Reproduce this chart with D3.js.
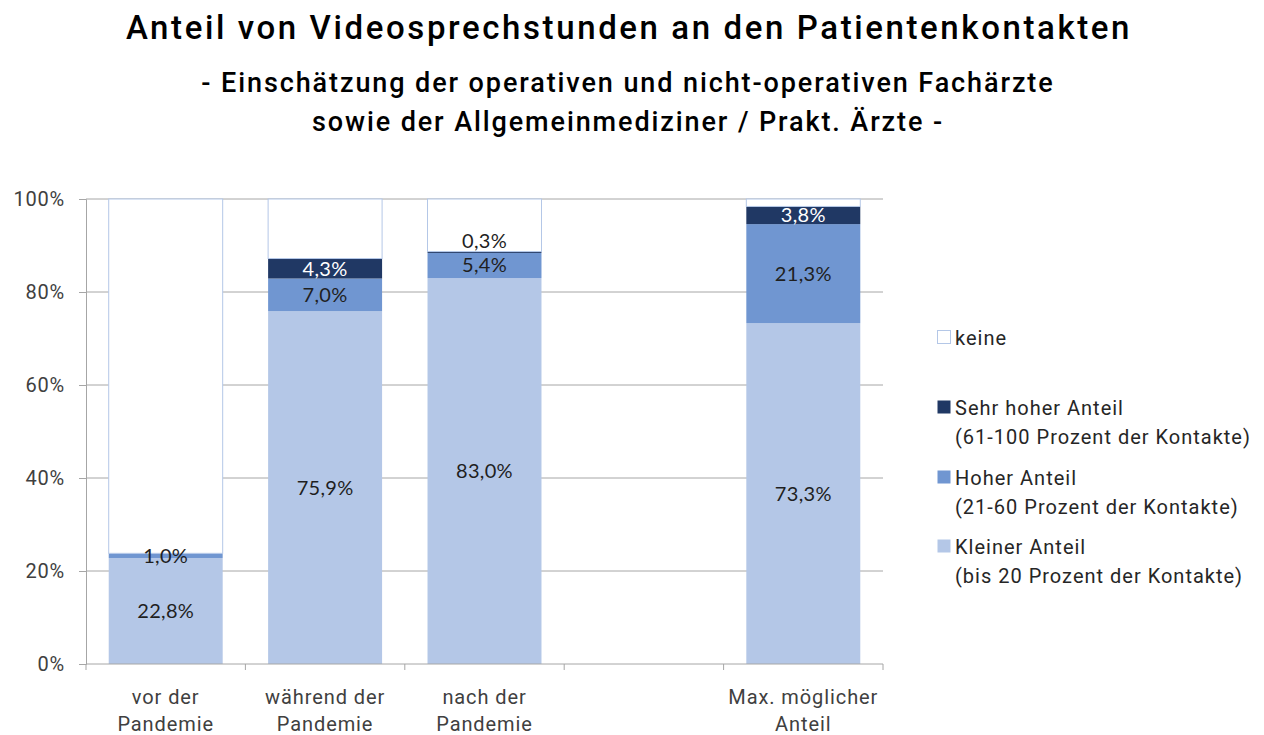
<!DOCTYPE html>
<html>
<head>
<meta charset="utf-8">
<script src="https://cdn.jsdelivr.net/npm/d3@7"></script>
<style>
    body { margin: 0; background: #fff; }
    svg { display: block; }
</style>
</head>
<body>
<div id="chart"></div>
<script>
// categories (empty slot between "nach" and "Max.")
const categories = ["vor der|Pandemie", "während der|Pandemie", "nach der|Pandemie", "", "Max. möglicher|Anteil"];
const kleinerAnteil = [22.8, 75.9, 83.0, null, 73.3];
const hoherAnteil = [1.0, 7.0, 5.4, null, 21.3];
const sehrHoherAnteil = [0, 4.3, 0.3, null, 3.8];
const yTicks = [0, 20, 40, 60, 80, 100];

const seriesNames = ["Kleiner Anteil", "Hoher Anteil", "Sehr hoher Anteil", "keine"];
const colors = ["#b4c7e7", "#7096d1", "#203864", "#ffffff"];
const legendItems = [
    {name: ["keine"], color: "#ffffff"},
    {name: ["Sehr hoher Anteil", "(61-100 Prozent der Kontakte)"], color: "#203864"},
    {name: ["Hoher Anteil", "(21-60 Prozent der Kontakte)"], color: "#7096d1"},
    {name: ["Kleiner Anteil", "(bis 20 Prozent der Kontakte)"], color: "#b4c7e7"}
];

const W = 1264, H = 735;
const margin = {top: 199, left: 86, right: W - 883, bottom: H - 664};
const width = W - margin.left - margin.right;
const height = H - margin.top - margin.bottom;

const svg = d3.select("#chart").append("svg")
    .attr("width", W)
    .attr("height", H);

// titles
const titleFont = "Roboto, 'DejaVu Sans', sans-serif";
svg.append("text")
    .attr("x", 629).attr("y", 39)
    .attr("text-anchor", "middle")
    .style("font-family", titleFont)
    .style("font-weight", "500")
    .style("font-size", "33px")
    .style("letter-spacing", "2.6px")
    .style("fill", "#000")
    .text("Anteil von Videosprechstunden an den Patientenkontakten");
[["- Einschätzung der operativen und nicht-operativen Fachärzte", 92], ["sowie der Allgemeinmediziner / Prakt. Ärzte -", 131]]
    .forEach(function (t) {
        svg.append("text")
            .attr("x", 628).attr("y", t[1])
            .attr("text-anchor", "middle")
            .style("font-family", titleFont)
            .style("font-weight", "500")
            .style("font-size", "27px")
            .style("letter-spacing", "1.9px")
            .style("fill", "#000")
            .text(t[0]);
    });

const g = svg.append("g")
    .attr("transform", "translate(" + margin.left + "," + margin.top + ")");

// scales
const x = d3.scaleBand()
    .domain(d3.range(categories.length))
    .range([0, width])
    .paddingInner(0.285)
    .paddingOuter(0.1425);
const y = d3.scaleLinear().domain([0, 100]).range([height, 0]);

// gridlines
g.selectAll(".grid")
    .data(yTicks.filter(d => d > 0))
    .enter().append("line")
    .attr("x1", 0).attr("x2", width)
    .attr("y1", d => y(d)).attr("y2", d => y(d))
    .attr("stroke", "#a6a6a6").attr("stroke-width", 1);

// y axis
const yAxis = g.append("g")
    .call(d3.axisLeft(y).tickValues(yTicks).tickFormat(d => d + "%").tickSize(7).tickPadding(14));
yAxis.select(".domain").attr("stroke", "#a6a6a6");
yAxis.selectAll(".tick line").attr("stroke", "#a6a6a6");
yAxis.selectAll("text")
    .style("font-family", "Roboto, sans-serif")
    .style("font-size", "20px")
    .style("letter-spacing", "0.8px")
    .style("fill", "#404040");

// stacked data
const rows = categories.map(function (c, i) {
    if (kleinerAnteil[i] === null) return null;
    const vals = [kleinerAnteil[i], hoherAnteil[i], sehrHoherAnteil[i]];
    vals.push(100 - d3.sum(vals));
    let acc = 0;
    return vals.map(function (v, k) {
        const seg = {i: i, k: k, v: v, y0: acc, y1: acc + v};
        acc += v;
        return seg;
    });
}).filter(r => r !== null);
const segments = rows.flat();

// bars
g.selectAll(".seg")
    .data(segments.filter(d => d.v > 0))
    .enter().append("rect")
    .attr("x", d => x(d.i))
    .attr("width", x.bandwidth())
    .attr("y", d => y(d.y1))
    .attr("height", d => y(d.y0) - y(d.y1))
    .attr("fill", d => colors[d.k])
    .attr("stroke", d => d.k === 3 ? "#b4c7e7" : "none")
    .attr("stroke-width", 1);

// labels
g.selectAll(".lbl")
    .data(segments.filter(d => d.k < 3 && d.v > 0))
    .enter().append("text")
    .attr("x", d => x(d.i) + x.bandwidth() / 2)
    .attr("y", function (d) {
        if (d.v < 1) return y(d.y1) - 11;
        return (y(d.y0) + y(d.y1)) / 2;
    })
    .attr("dy", "0.35em")
    .attr("text-anchor", "middle")
    .style("font-family", "Lato, 'Open Sans', sans-serif")
    .style("font-size", "20px")
    .style("letter-spacing", "0.3px")
    .style("fill", d => (d.k === 2 && d.v >= 1) ? "#ffffff" : "#1f1f1f")
    .text(d => d3.format(".1f")(d.v).replace(".", ",") + "%");

// x axis line and boundary ticks
g.append("line")
    .attr("x1", 0).attr("x2", width)
    .attr("y1", height).attr("y2", height)
    .attr("stroke", "#a6a6a6");
const step = x.step();
g.selectAll(".xtick")
    .data(d3.range(categories.length + 1))
    .enter().append("line")
    .attr("x1", d => d * step).attr("x2", d => d * step)
    .attr("y1", height).attr("y2", height + 6)
    .attr("stroke", "#a6a6a6");

// category labels
categories.forEach(function (c, i) {
    if (!c) return;
    c.split("|").forEach(function (line, j) {
        g.append("text")
            .attr("x", x(i) + x.bandwidth() / 2)
            .attr("y", height + 40 + j * 27)
            .attr("text-anchor", "middle")
            .style("font-family", "Roboto, sans-serif")
            .style("font-size", "20px")
            .style("letter-spacing", "0.9px")
            .style("fill", "#404040")
            .text(line);
    });
});

// legend
const legendY = [338, 408, 478, 547];
const legend = svg.append("g");
legendItems.forEach(function (item, i) {
    legend.append("rect")
        .attr("x", 937.5).attr("y", legendY[i] - 7.5)
        .attr("width", 13).attr("height", 13)
        .attr("fill", item.color)
        .attr("stroke", item.color === "#ffffff" ? "#b4c7e7" : "none");
    item.name.forEach(function (line, j) {
        legend.append("text")
            .attr("x", 955)
            .attr("y", legendY[i] + j * 29)
            .attr("dy", "0.35em")
            .style("font-family", "Roboto, sans-serif")
            .style("font-size", "20px")
            .style("letter-spacing", "1px")
            .style("fill", "#262626")
            .text(line);
    });
});
</script>
</body>
</html>
